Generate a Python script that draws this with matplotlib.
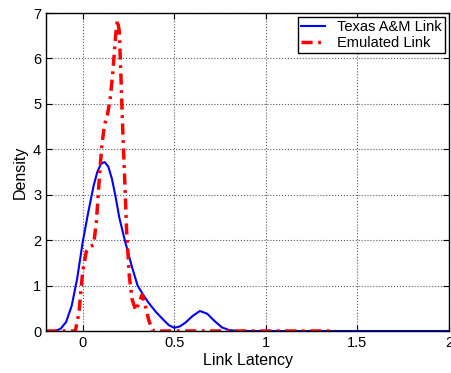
import matplotlib
matplotlib.use("Agg")
import matplotlib.pyplot as plt

plt.rcParams['font.family'] = ['Liberation Sans', 'DejaVu Sans']
plt.rcParams['font.size'] = 10.5

# Texas A&M link density
tamu_x = [-0.2, -0.15, -0.12, -0.09, -0.06, -0.03, 0.0, 0.03, 0.06, 0.08, 0.10,
          0.12, 0.14, 0.16, 0.18, 0.20, 0.23, 0.27, 0.30, 0.33, 0.36, 0.40,
          0.44, 0.47, 0.50, 0.53, 0.56, 0.60, 0.64, 0.68, 0.72, 0.76, 0.80,
          0.85, 1.0, 1.5, 2.0]
tamu_y = [0, 0, 0.05, 0.2, 0.55, 1.15, 1.95, 2.6, 3.2, 3.5, 3.68,
          3.72, 3.62, 3.35, 2.95, 2.5, 2.0, 1.4, 1.0, 0.8, 0.62, 0.42,
          0.25, 0.13, 0.07, 0.1, 0.18, 0.33, 0.44, 0.38, 0.22, 0.08, 0.02,
          0, 0, 0, 0]

# Emulated link density
emu_x = [-0.2, -0.04, -0.02, 0.0, 0.02, 0.04, 0.06, 0.075, 0.09, 0.105, 0.12,
         0.135, 0.15, 0.165, 0.18, 0.19, 0.20, 0.21, 0.22, 0.23, 0.24, 0.255,
         0.27, 0.29, 0.31, 0.325, 0.34, 0.36, 0.38, 0.40, 1.38]
emu_y = [0, 0, 0.4, 1.3, 1.75, 1.85, 1.9, 2.4, 3.3, 4.1, 4.55,
         4.75, 5.1, 5.7, 6.5, 6.85, 6.6, 5.5, 4.3, 3.3, 2.2, 1.2,
         0.7, 0.45, 0.65, 0.8, 0.6, 0.25, 0.02, 0, 0]

fig = plt.figure(figsize=(4.51, 3.73), dpi=100)
ax = fig.add_axes([0.102, 0.1126, 0.8936, 0.8524])

ax.plot(tamu_x, tamu_y, color='blue', lw=1.5, label='Texas A&M Link')
ax.plot(emu_x, emu_y, color='red', lw=2.5, ls='-.', dashes=(3.2, 1.6, 0.8, 1.6),
        label='Emulated Link')

ax.set_xlim(-0.2, 2)
ax.set_ylim(0, 7)
ax.set_xticks([0, 0.5, 1, 1.5, 2])
ax.set_xticklabels(['0', '0.5', '1', '1.5', '2'])
ax.set_yticks(range(8))
ax.grid(True, ls=':', color='0.35', lw=0.8)
ax.tick_params(direction='in', top=True, right=True, length=4, labelsize=10.5)
for s in ax.spines.values():
    s.set_linewidth(1.0)
ax.set_xlabel('Link Latency', fontsize=11.5, labelpad=2)
ax.set_ylabel('Density', fontsize=11.5, labelpad=4)

leg = ax.legend(loc='upper right', fancybox=False, framealpha=1,
                edgecolor='black', handlelength=1.7, handletextpad=0.8,
                borderaxespad=0.3, borderpad=0.2, labelspacing=0.1,
                fontsize=10.5)
leg.get_frame().set_linewidth(1.0)

fig.savefig('out.png', dpi=100)
